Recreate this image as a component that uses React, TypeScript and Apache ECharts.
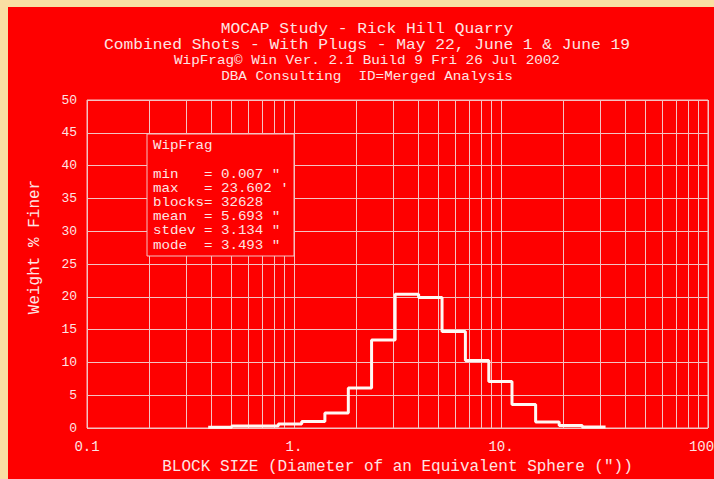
import React, { useEffect, useRef } from "react";
import * as echarts from "echarts";

// ---- data ----
const titleLines = [
  "MOCAP Study - Rick Hill Quarry",
  "Combined Shots - With Plugs - May 22, June 1 & June 19",
  "WipFrag© Win Ver. 2.1 Build 9 Fri 26 Jul 2002",
  "DBA Consulting  ID=Merged Analysis",
];
const binEdges = [0.385, 0.5, 0.648, 0.84, 1.09, 1.41, 1.83, 2.37, 3.08, 4.0, 5.19, 6.73, 8.73, 11.3, 14.7, 19.1, 24.7, 32.0];
const weightPct = [0.1, 0.3, 0.3, 0.6, 1.0, 2.3, 6.1, 13.4, 20.4, 19.9, 14.7, 10.3, 7.1, 3.6, 0.9, 0.4, 0.15];
const xTickLabels = ["0.1", "1.", "10.", "100"];
const minorGridX = [0.2, 0.3, 0.4, 0.5, 0.6, 0.7, 0.8, 0.9, 2, 3, 4, 5, 6, 7, 8, 9, 20, 30, 40, 50, 60, 70, 80, 90];
const statsTitle = "WipFrag";
const statsLines = [
  'min   = 0.007 "',
  "max   = 23.602 '",
  "blocks= 32628",
  'mean  = 5.693 "',
  'stdev = 3.134 "',
  'mode  = 3.493 "',
];

const RED = "#fe0000";
const BEIGE = "#f9dea3";
const TXT = "#fde4e4";
const GRID = "#f4c2c2";
const MONO = "'Liberation Mono', 'DejaVu Sans Mono', monospace";

export default function App() {
  const ref = useRef<HTMLDivElement>(null);
  useEffect(() => {
    if (!ref.current) return;
    const chart = echarts.init(ref.current, undefined, { renderer: "svg", width: 706, height: 472 });

    const stepData: number[][] = weightPct.map((v, i) => [binEdges[i], v]);
    stepData.push([binEdges[binEdges.length - 1], weightPct[weightPct.length - 1]]);

    const titleSizes = [14, 14, 13, 13];
    const titleScaleX = [1.16, 1.16, 1.1, 1.1];
    const titleY = [22, 38, 54, 70];

    const graphics: any[] = [];
    titleLines.forEach((t, i) => {
      graphics.push({
        type: "text",
        x: 359,
        y: titleY[i],
        scaleX: titleScaleX[i],
        style: { text: t, fill: TXT, font: `${titleSizes[i]}px ${MONO}`, align: "center", verticalAlign: "middle" },
      });
    });
    graphics.push({
      type: "text",
      x: 27,
      y: 240,
      rotation: Math.PI / 2,
      style: { text: "Weight % Finer", fill: TXT, font: `16px ${MONO}`, align: "center", verticalAlign: "middle" },
    });
    graphics.push({
      type: "rect",
      z: 10,
      shape: { x: 139, y: 127, width: 147, height: 122 },
      style: { fill: RED, stroke: GRID, lineWidth: 1 },
    });
    graphics.push({
      type: "text",
      z: 11,
      x: 145,
      y: 132,
      scaleX: 1.18,
      style: {
        text: [statsTitle, "", ...statsLines].join("\n"),
        fill: TXT,
        font: `12px ${MONO}`,
        lineHeight: 14.2,
        align: "left",
        verticalAlign: "top",
      },
    });

    chart.setOption({
      animation: false,
      backgroundColor: RED,
      grid: {
        left: 79,
        top: 93,
        right: 6,
        bottom: 51,
        outerBoundsMode: "none",
        containLabel: false,
        show: true,
        borderColor: GRID,
        borderWidth: 1,
        backgroundColor: "transparent",
      },
      xAxis: {
        type: "log",
        logBase: 10,
        min: 0.1,
        max: 100,
        axisLine: { show: false },
        axisTick: { show: false },
        splitLine: { show: true, lineStyle: { color: GRID, width: 1 } },
        axisLabel: {
          color: TXT,
          fontFamily: MONO,
          fontSize: 14,
          margin: 12,
          formatter: (v: number) => {
            const idx = Math.round(Math.log10(v)) + 1;
            const s = xTickLabels[idx] ?? "";
            return idx === xTickLabels.length - 1 ? `{last|${s}}` : s;
          },
          rich: {
            last: { color: TXT, fontFamily: MONO, fontSize: 14, padding: [0, 13, 0, 0] },
          },
        },
        name: 'BLOCK SIZE (Diameter of an Equivalent Sphere ("))',
        nameLocation: "middle",
        nameGap: 31,
        nameTextStyle: { color: TXT, fontFamily: MONO, fontSize: 16 },
      },
      yAxis: {
        type: "value",
        min: 0,
        max: 50,
        interval: 5,
        axisLine: { show: false },
        axisTick: { show: false },
        splitLine: { show: true, lineStyle: { color: GRID, width: 1 } },
        axisLabel: { color: TXT, fontFamily: MONO, fontSize: 13, margin: 10 },
      },
      series: [
        {
          type: "line",
          z: 1,
          data: [[0.1, 0]],
          showSymbol: false,
          lineStyle: { width: 0, opacity: 0 },
          silent: true,
          markLine: {
            silent: true,
            symbol: ["none", "none"],
            label: { show: false },
            lineStyle: { color: GRID, width: 1, type: "solid" },
            emphasis: { disabled: true },
            data: minorGridX.map((v) => ({ xAxis: v })),
          },
        },
        {
          type: "line",
          z: 5,
          step: "end",
          data: stepData,
          showSymbol: false,
          lineStyle: { color: "#fff8f4", width: 3 },
        },
      ],
      graphic: graphics,
    });
    return () => chart.dispose();
  }, []);

  return (
    <div style={{ position: "fixed", left: 0, top: 0, width: 714, height: 479, background: BEIGE }}>
      <div ref={ref} style={{ position: "absolute", left: 8, top: 7, width: 706, height: 472 }} />
    </div>
  );
}
